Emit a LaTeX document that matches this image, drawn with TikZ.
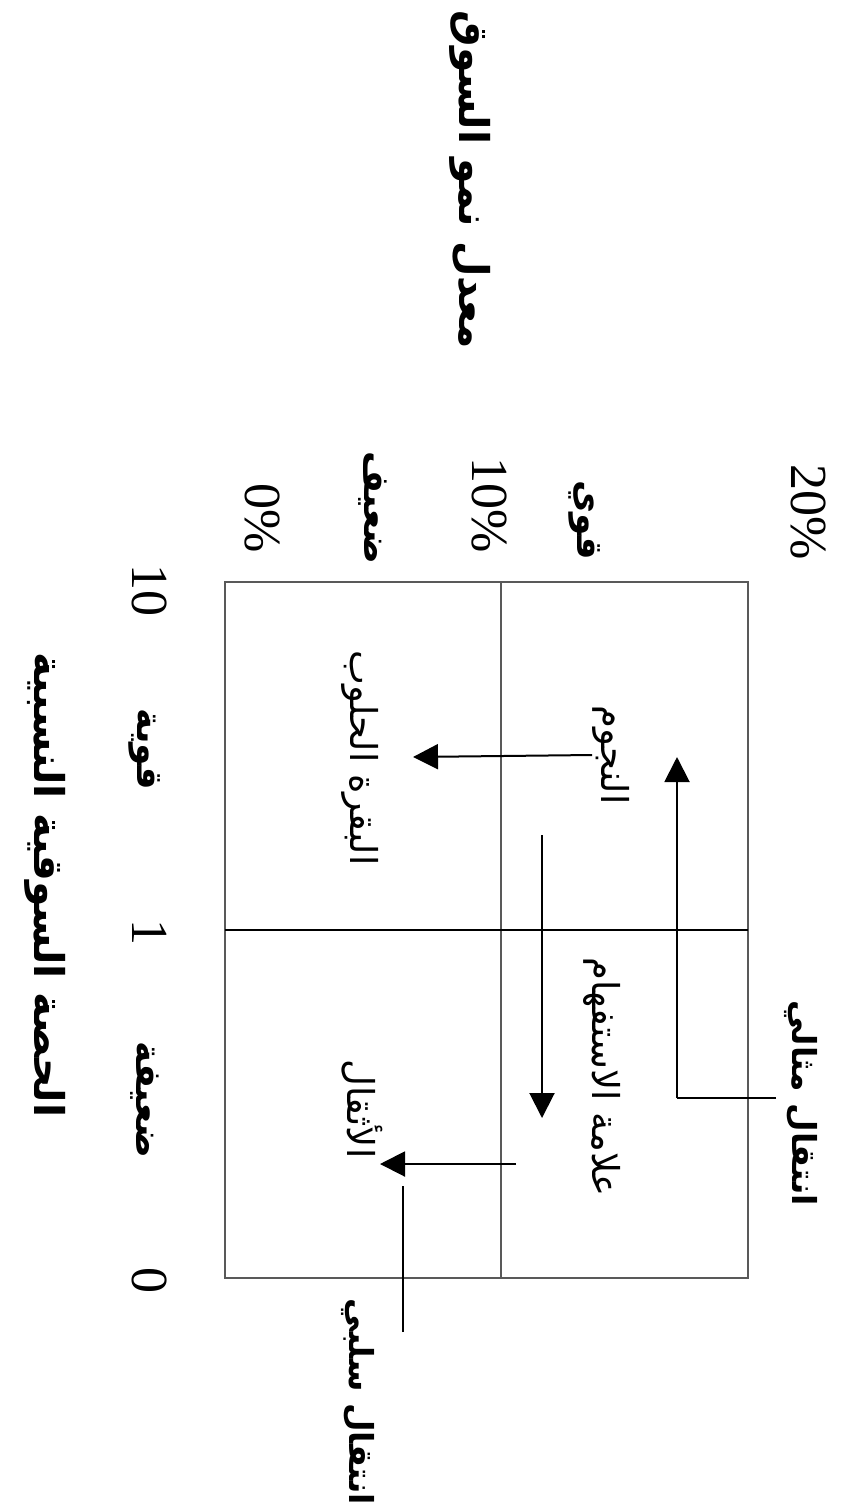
\documentclass[tikz,border=0pt]{standalone}
\usepackage{fontspec}
\setmainfont{Liberation Serif}
\newfontfamily\arabicfont[Script=Arabic]{DejaVu Sans}
\TeXXeTstate=1
\usetikzlibrary{arrows.meta}
\newcommand{\rl}[1]{\beginR #1\endR}

\begin{document}
\begin{tikzpicture}[x=0.5pt, y=-0.5pt,
  every node/.style={rotate=-90, inner sep=0pt},
  numlab/.style={font=\fontsize{26}{28}\selectfont},
  axtitle/.style={font=\arabicfont\bfseries\fontsize{20.5}{23}\selectfont},
  axlab/.style={font=\arabicfont\bfseries\fontsize{18}{20}\selectfont},
  quadlab/.style={font=\arabicfont\fontsize{18.5}{20}\selectfont},
  translab/.style={font=\arabicfont\bfseries\fontsize{16.5}{18}\selectfont},
  frame/.style={draw=black!65, line width=1pt},
  move/.style={draw=black, line width=1pt, -{Triangle[length=12.5pt,width=12.5pt]}},
  lead/.style={draw=black, line width=0.8pt}]
  \useasboundingbox (0,0) rectangle (846,1510);

  %--- Matrix
  \draw[frame] (225,582) rectangle (748,1278);
  \draw[frame] (501,582) -- (501,1278);
  \draw[frame, draw=black] (225,930) -- (748,930);

  %--- Wachstumsachse (links, gedreht oben)
  \node[axtitle] (growth) at (470,180) {\rl{معدل نمو السوق}};
  \node[numlab, anchor=east] (g20) at (808,560) {20\%};
  \node[axlab, anchor=east]  (gstrong) at (585,560) {\rl{قوي}};
  \node[numlab, anchor=east] (g10) at (489,553) {10\%};
  \node[axlab, anchor=east]  (gweak) at (373,565) {\rl{ضعيف}};
  \node[numlab, anchor=east] (g0) at (262,553) {0\%};

  %--- Marktanteilsachse
  \node[numlab] (s10) at (150,590) {10};
  \node[axlab]  (sstrong) at (145,749) {\rl{قوية}};
  \node[numlab] (s1) at (150,932) {1};
  \node[axlab]  (sweak) at (145,1100) {\rl{ضعيفة}};
  \node[numlab] (s0) at (150,1280) {0};
  \node[axtitle] (share) at (45,885) {\rl{الحصة السوقية النسبية}};

  %--- Quadranten
  \node[quadlab] (stars) at (611,755) {\rl{النجوم}};
  \node[quadlab] (cows) at (360,758) {\rl{البقرة الحلوب}};
  \node[quadlab] (quest) at (602,1077) {\rl{علامة الاستفهام}};
  \node[quadlab] (dogs) at (362,1109) {\rl{الأثقال}};

  %--- Uebergaenge
  \node[translab] (ideal) at (801,1103) {\rl{انتقال مثالي}};
  \node[translab] (bad) at (358,1402) {\rl{انتقال سلبي}};

  \coordinate (idealfoot) at (677,1098);
  \coordinate (idealtip) at (677,757);
  \coordinate (cowtip) at (413,757);
  \coordinate (downtop) at (542,835);
  \coordinate (downtip) at (542,1118);
  \coordinate (dogstart) at (516,1164);
  \coordinate (dogtip) at (380,1164);
  \coordinate (badtop) at (403,1186);
  \coordinate (badfoot) at (403,1332);

  \draw[lead] (ideal.south |- idealfoot) ++(-8,0) -- (idealfoot);
  \draw[move] (idealfoot) -- (idealtip);
  \draw[move] (stars.south) -- (cowtip);
  \draw[move] (downtop) -- (downtip);
  \draw[move] (dogstart) -- (dogtip);
  \draw[lead] (badfoot) -- (badtop);
\end{tikzpicture}
\end{document}
